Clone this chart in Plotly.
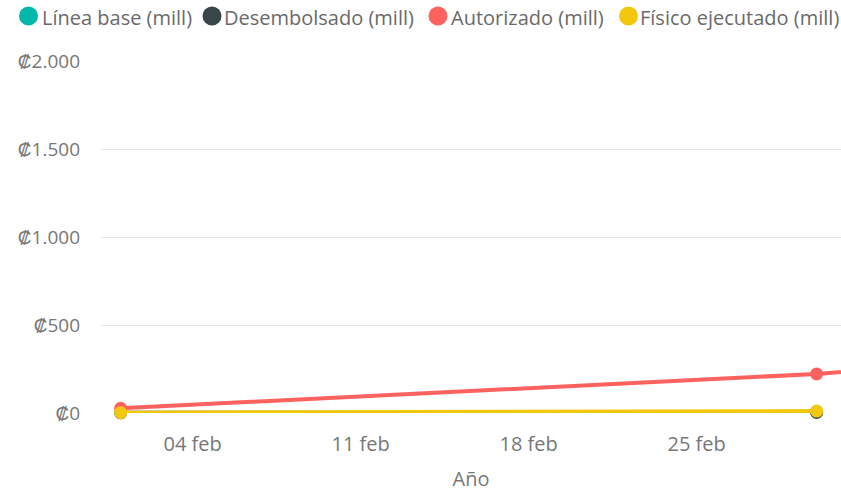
import plotly.graph_objects as go

dates = ["2024-02-01", "2024-03-01", "2024-04-01"]
linea_base = [None, None, None]
desembolsado = [1, 3, None]
autorizado = [27, 222, 570]
fisico = [2, 11, None]

series_names = ["Línea base (mill)", "Desembolsado (mill)", "Autorizado (mill)", "Físico ejecutado (mill)"]
series_values = [linea_base, desembolsado, autorizado, fisico]
colors = ["#01B8AA", "#374649", "#FD625E", "#F2C80F"]

y_ticks = [0, 500, 1000, 1500, 2000]
y_ticktext = ["₡0", "₡500", "₡1.000", "₡1.500", "₡2.000"]
x_ticks = ["2024-02-04", "2024-02-11", "2024-02-18", "2024-02-25"]
x_ticktext = ["04 feb", "11 feb", "18 feb", "25 feb"]

FONT = "Segoe UI, Open Sans, sans-serif"
W, H = 841, 492
ML, MR, MT, MB = 101, 0, 61, 79
PW, PH = W - ML - MR, H - MT - MB

def px_to_paper_x(px):
    return (px - ML) / PW

def px_to_paper_y(py):
    return (H - MB - py) / PH

fig = go.Figure()
for name, vals, col in zip(series_names, series_values, colors):
    fig.add_trace(go.Scatter(
        x=dates, y=vals, name=name, mode="lines+markers",
        line=dict(color=col, width=4),
        marker=dict(color=col, size=13),
        cliponaxis=False, showlegend=False,
    ))

# custom legend (circle + label), laid out like the reference
legend_circle_x = [28.5, 212, 438, 628.5]
legend_text_x = [40, 222, 449, 638]
legend_y = 16
shapes = []
annotations = []
for name, col, cx, tx in zip(series_names, colors, legend_circle_x, legend_text_x):
    shapes.append(dict(
        type="circle", xref="paper", yref="paper",
        xsizemode="pixel", ysizemode="pixel",
        xanchor=px_to_paper_x(cx), yanchor=px_to_paper_y(legend_y),
        x0=-9.5, x1=9.5, y0=-9.5, y1=9.5,
        fillcolor=col, line=dict(width=0),
    ))
    annotations.append(dict(
        text=name, xref="paper", yref="paper",
        x=px_to_paper_x(tx), y=px_to_paper_y(legend_y + 1.5),
        xanchor="left", yanchor="middle", showarrow=False,
        font=dict(family=FONT, size=20, color="#6a6a6a"),
    ))

fig.update_layout(
    width=W, height=H,
    margin=dict(l=ML, r=MR, t=MT, b=MB),
    paper_bgcolor="white", plot_bgcolor="white",
    font=dict(family=FONT, size=20, color="#777777"),
    showlegend=False,
    shapes=shapes, annotations=annotations,
    xaxis=dict(
        type="date", range=["2024-01-31 04:20", "2024-03-02 00:20"],
        tickvals=x_ticks, ticktext=x_ticktext, showgrid=False,
        zeroline=False, showline=False, ticks="",
        tickfont=dict(size=20, color="#777777"), ticklabelstandoff=17,
        title=dict(text="Año", font=dict(size=20, color="#777777"), standoff=16),
    ),
    yaxis=dict(
        range=[0, 2000], tickvals=y_ticks, ticktext=y_ticktext,
        showgrid=True, gridcolor="#e4e4e4", gridwidth=1,
        zeroline=False, showline=False, ticks="",
        tickfont=dict(size=19, color="#777777"), ticklabelstandoff=20,
    ),
)

fig.write_html(
    "out.html",
    config={"displayModeBar": False},
    post_script="document.body.style.margin='0';document.body.style.overflow='hidden';",
)
